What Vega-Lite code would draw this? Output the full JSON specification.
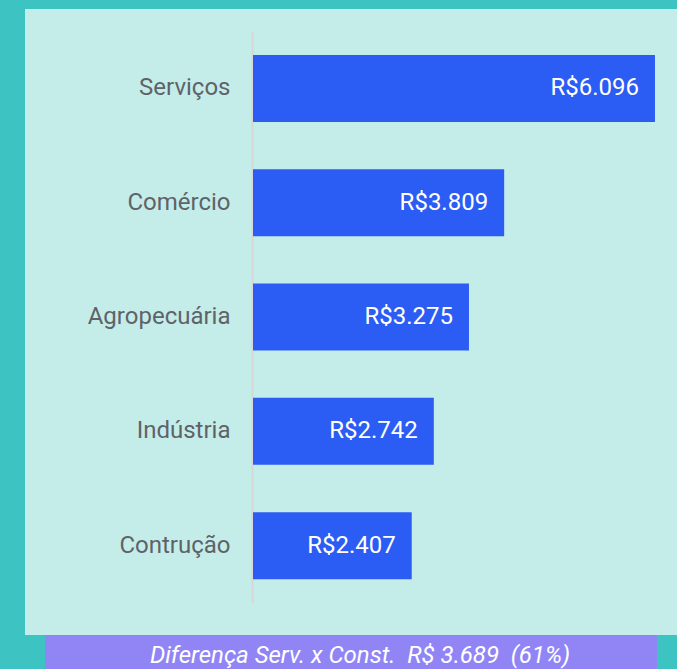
{
  "$schema": "https://vega.github.io/schema/vega-lite/v6.json",
  "background": "#3EC3C3",
  "padding": {"left": 25, "top": 9, "right": 0, "bottom": 0},
  "config": {
    "locale": {"number": {"decimal": ",", "thousands": ".", "grouping": [3], "currency": ["R$", ""]}},
    "font": "Roboto",
    "view": {"stroke": null}
  },
  "datasets": {
    "setores": [
      {"setor": "Serviços", "valor": 6096},
      {"setor": "Comércio", "valor": 3809},
      {"setor": "Agropecuária", "valor": 3275},
      {"setor": "Indústria", "valor": 2742},
      {"setor": "Contrução", "valor": 2407}
    ],
    "nota": [
      {"texto": "Diferença Serv. x Const.\u00a0\u00a0R$ 3.689\u00a0\u00a0(61%)"}
    ]
  },
  "spacing": 0,
  "center": true,
  "vconcat": [
    {
      "width": 652,
      "height": 626,
      "data": {"name": "setores"},
      "view": {"fill": "#C4EDE9", "stroke": null},
      "encoding": {
        "y": {
          "field": "setor", "type": "nominal", "sort": null,
          "scale": {"range": [22.3, 593.8], "paddingInner": 0.414, "paddingOuter": 0.207},
          "axis": {"title": null, "orient": "left", "offset": -227, "ticks": false, "tickSize": 0, "labelPadding": 22, "labelFontSize": 24, "labelColor": "#5f6368", "domainColor": "#D6D8D8", "domainWidth": 2, "grid": false}
        },
        "x": {
          "field": "valor", "type": "quantitative",
          "scale": {"domain": [0, 6430], "range": [228, 652], "nice": false},
          "axis": null
        }
      },
      "layer": [
        {"mark": {"type": "bar", "color": "#2B5CF3"}},
        {
          "mark": {"type": "text", "align": "right", "baseline": "middle", "dx": -16, "fontSize": 24, "color": "white"},
          "encoding": {"text": {"field": "valor", "type": "quantitative", "format": "$,d"}}
        }
      ]
    },
    {
      "width": 612,
      "height": 34,
      "data": {"name": "nota"},
      "view": {"fill": "#9185F6", "stroke": null},
      "mark": {"type": "text", "fontStyle": "italic", "fontSize": 24, "color": "white", "baseline": "alphabetic", "dy": 11, "dx": 9},
      "encoding": {"text": {"field": "texto", "type": "nominal"}}
    }
  ]
}
